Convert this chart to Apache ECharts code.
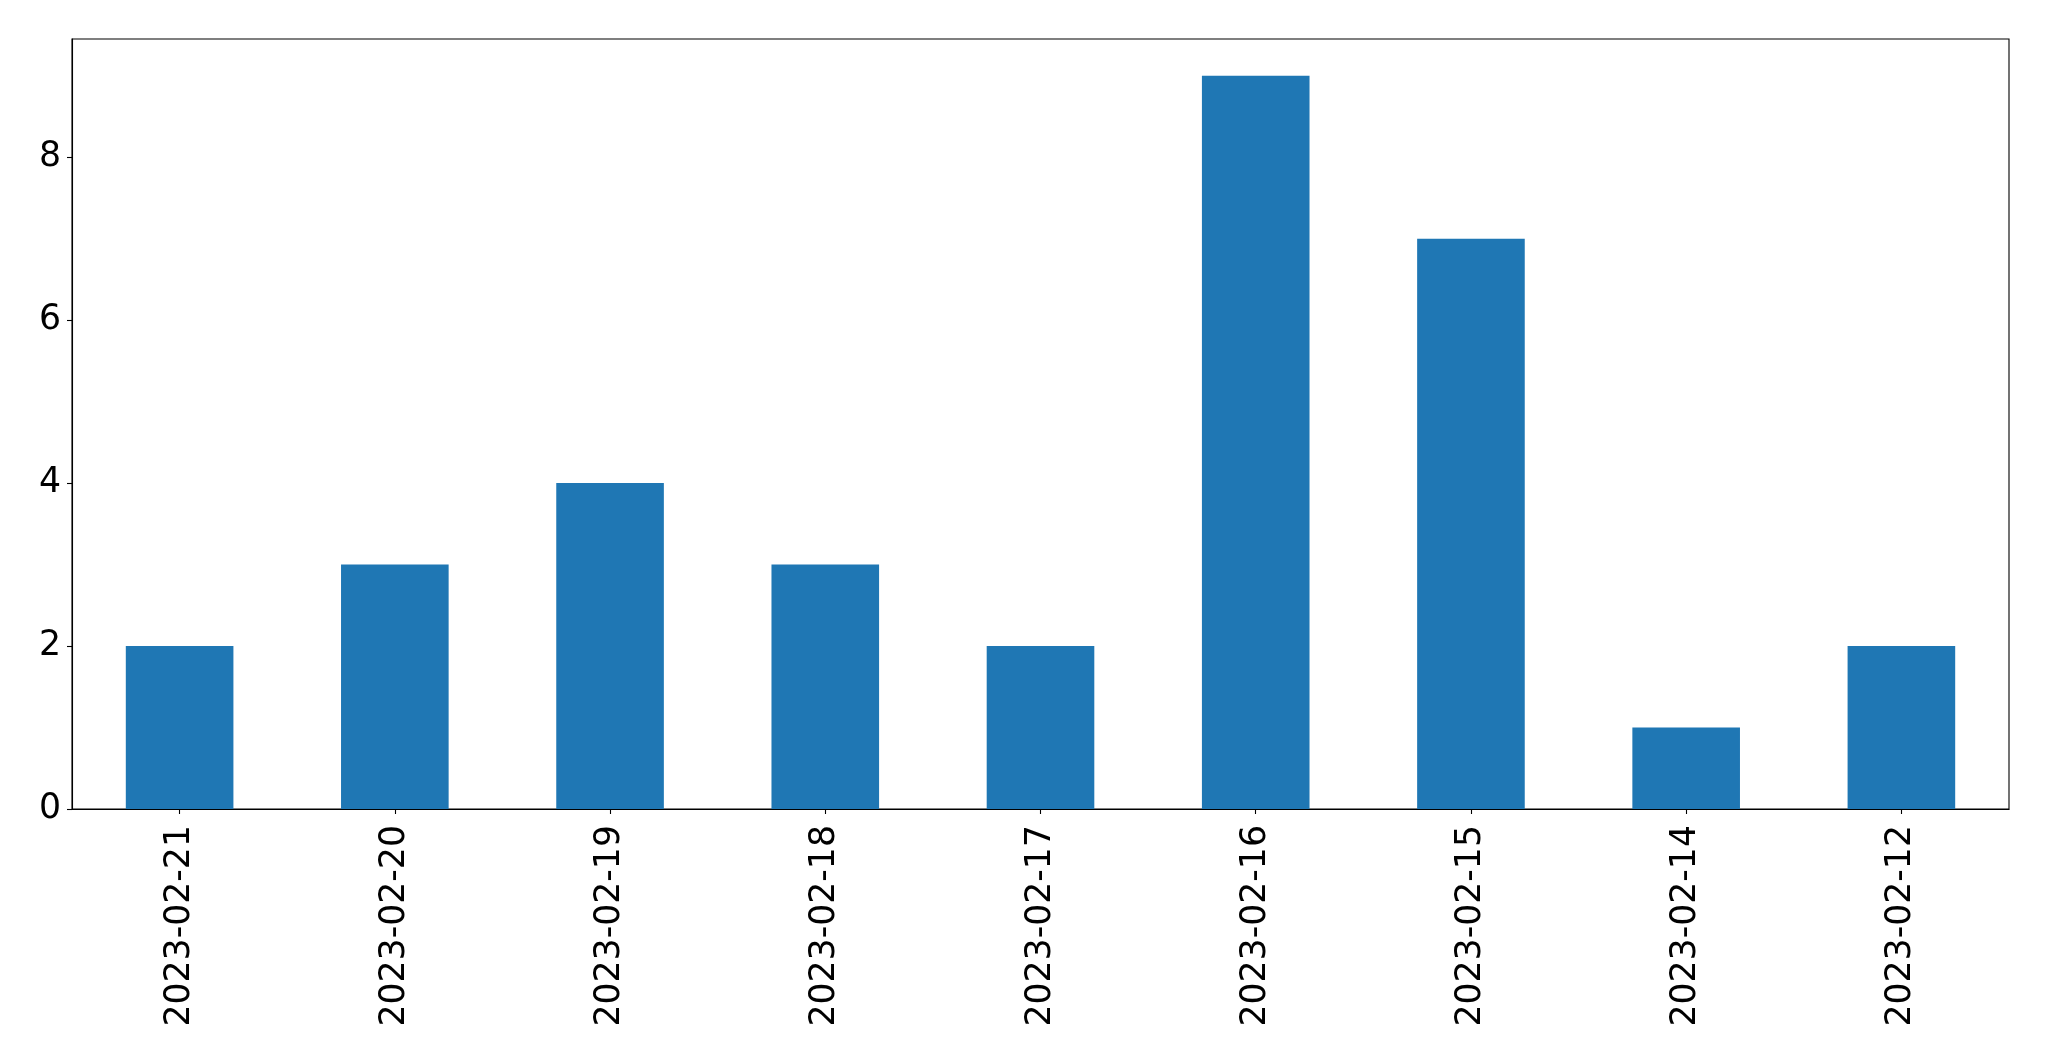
<!DOCTYPE html>
<html>
<head>
<meta charset="utf-8">
<script src="https://cdn.jsdelivr.net/npm/echarts@6/dist/echarts.min.js"></script>
<style>html,body{margin:0;padding:0;background:#fff;}#c{width:2049px;height:1061px;}</style>
</head>
<body>
<div id="c"></div>
<script>
const categories = ["2023-02-21","2023-02-20","2023-02-19","2023-02-18","2023-02-17","2023-02-16","2023-02-15","2023-02-14","2023-02-12"];
const values = [2,3,4,3,2,9,7,1,2];
const yTicks = [0,2,4,6,8];

const chart = echarts.init(document.getElementById('c'), null, {renderer:'canvas'});
const font = 'DejaVu Sans';
chart.setOption({
  animation: false,
  backgroundColor: '#fff',
  grid: {left:72, right:40, top:39, bottom:252, show:true, borderColor:'#000', borderWidth:1.1, backgroundColor:'transparent'},
  xAxis: {
    type:'category', data:categories,
    axisLine:{show:true, lineStyle:{color:'#000', width:1.1}},
    axisTick:{show:true, alignWithLabel:true, length:5, lineStyle:{color:'#000', width:1.1}},
    axisLabel:{rotate:90, fontSize:34.7, color:'#000', fontFamily:font, margin:16, interval:0, padding:[5,0,0,0]}
  },
  yAxis: {
    type:'value', min:0, max:9.45,
    splitLine:{show:false},
    axisLine:{show:true, lineStyle:{color:'#000', width:1.1}},
    axisTick:{show:true, length:5, lineStyle:{color:'#000', width:1.1}, customValues: yTicks},
    axisLabel:{fontSize:34.7, color:'#000', fontFamily:font, margin:11, customValues: yTicks, padding:[6,0,0,0]}
  },
  series: [{type:'bar', data:values, barWidth:'50%', itemStyle:{color:'#1f77b4'}}]
});
</script>
</body>
</html>
